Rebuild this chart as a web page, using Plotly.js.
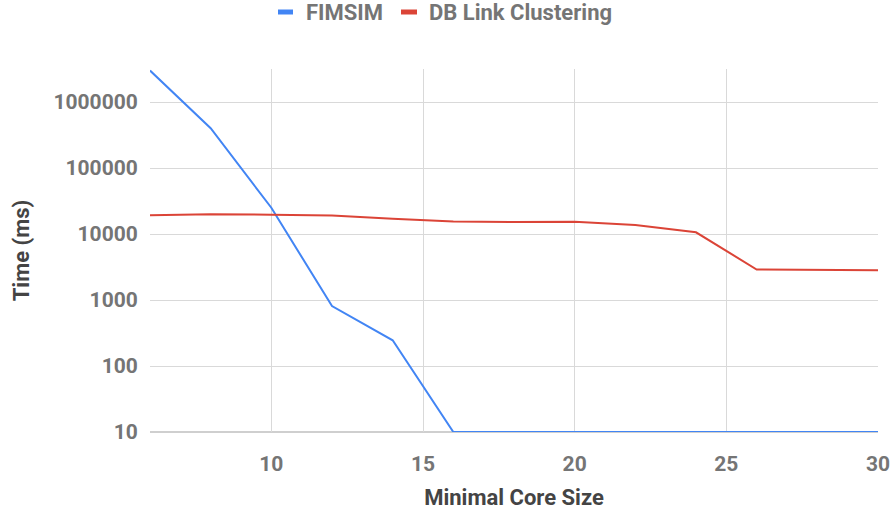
<!DOCTYPE html>
<html><head><meta charset="utf-8">
<script src="https://cdn.plot.ly/plotly-3.0.1.min.js"></script>
<style>html,body{margin:0;padding:0;background:#fff}#c{width:893px;height:510px}</style>
</head><body><div id="c"></div>
<script>
const coreSize = [6, 8, 10, 12, 14, 16, 18, 20, 22, 24, 26, 28, 30];
const fimsim = [3000000, 400000, 25000, 810, 245, 10, 10, 10, 10, 10, 10, 10, 10];
const dbLink = [19300, 20000, 19600, 19000, 17000, 15500, 15200, 15300, 13700, 10600, 2900, 2850, 2820];
const seriesNames = ['FIMSIM', 'DB Link Clustering'];
const seriesColors = ['#4285F4', '#DB4437'];
const yTicks = [10, 100, 1000, 10000, 100000, 1000000];
const xTicks = [10, 15, 20, 25, 30];

const W = 893, H = 510, M = {l: 150, r: 15, t: 69, b: 78};
const pw = W - M.l - M.r, ph = H - M.t - M.b;
const px = v => (v - M.l) / pw;
const py = v => (H - M.b - v) / ph;

const tickFont = {family: 'Roboto', size: 21, color: '#757575', weight: 'bold'};
const titleFont = {family: 'Roboto', size: 22, color: '#444444', weight: 'bold'};
const traces = [
  {x: coreSize, y: fimsim, name: seriesNames[0], type: 'scatter', mode: 'lines', line: {color: seriesColors[0], width: 2}},
  {x: coreSize, y: dbLink, name: seriesNames[1], type: 'scatter', mode: 'lines', line: {color: seriesColors[1], width: 2}}
];
// custom legend (small bar + label), positioned in pixels
const legendItems = [
  {mark: [278, 293], textX: 304},
  {mark: [401, 417], textX: 427}
];
const shapes = [{type: 'line', xref: 'paper', yref: 'paper', x0: 0, x1: 1, y0: 0, y1: 0, line: {color: '#cfcfcf', width: 2}, layer: 'below'}];
const annotations = [];
legendItems.forEach((it, i) => {
  shapes.push({type: 'rect', xref: 'paper', yref: 'paper', x0: px(it.mark[0]), x1: px(it.mark[1]), y0: py(14.5), y1: py(9.5),
               fillcolor: seriesColors[i], line: {width: 0}});
  annotations.push({xref: 'paper', yref: 'paper', x: px(it.textX), y: py(12), xanchor: 'left', yanchor: 'middle',
                    text: seriesNames[i], showarrow: false, font: {family: 'Roboto', size: 22, color: '#757575', weight: 'bold'}});
});
const layout = {
  width: W, height: H,
  margin: M,
  paper_bgcolor: '#fff', plot_bgcolor: '#fff',
  showlegend: false,
  xaxis: {range: [6, 30], tickvals: xTicks, ticktext: xTicks.map(String), tickfont: tickFont,
          showgrid: true, gridcolor: '#d9d9d9', zeroline: false, showline: false, ticks: 'outside', ticklen: 13, tickcolor: 'rgba(0,0,0,0)',
          title: {text: 'Minimal Core Size', font: titleFont, standoff: 15}},
  yaxis: {type: 'log', range: [1, 6.5], tickvals: yTicks, ticktext: yTicks.map(String), tickfont: tickFont,
          showgrid: true, gridcolor: '#d9d9d9', zeroline: false, showline: false, ticks: 'outside', ticklen: 7, tickcolor: 'rgba(0,0,0,0)',
          title: {text: 'Time (ms)', font: titleFont, standoff: 17}},
  shapes: shapes,
  annotations: annotations
};
Plotly.newPlot('c', traces, layout, {displayModeBar: false, staticPlot: true});
</script></body></html>
